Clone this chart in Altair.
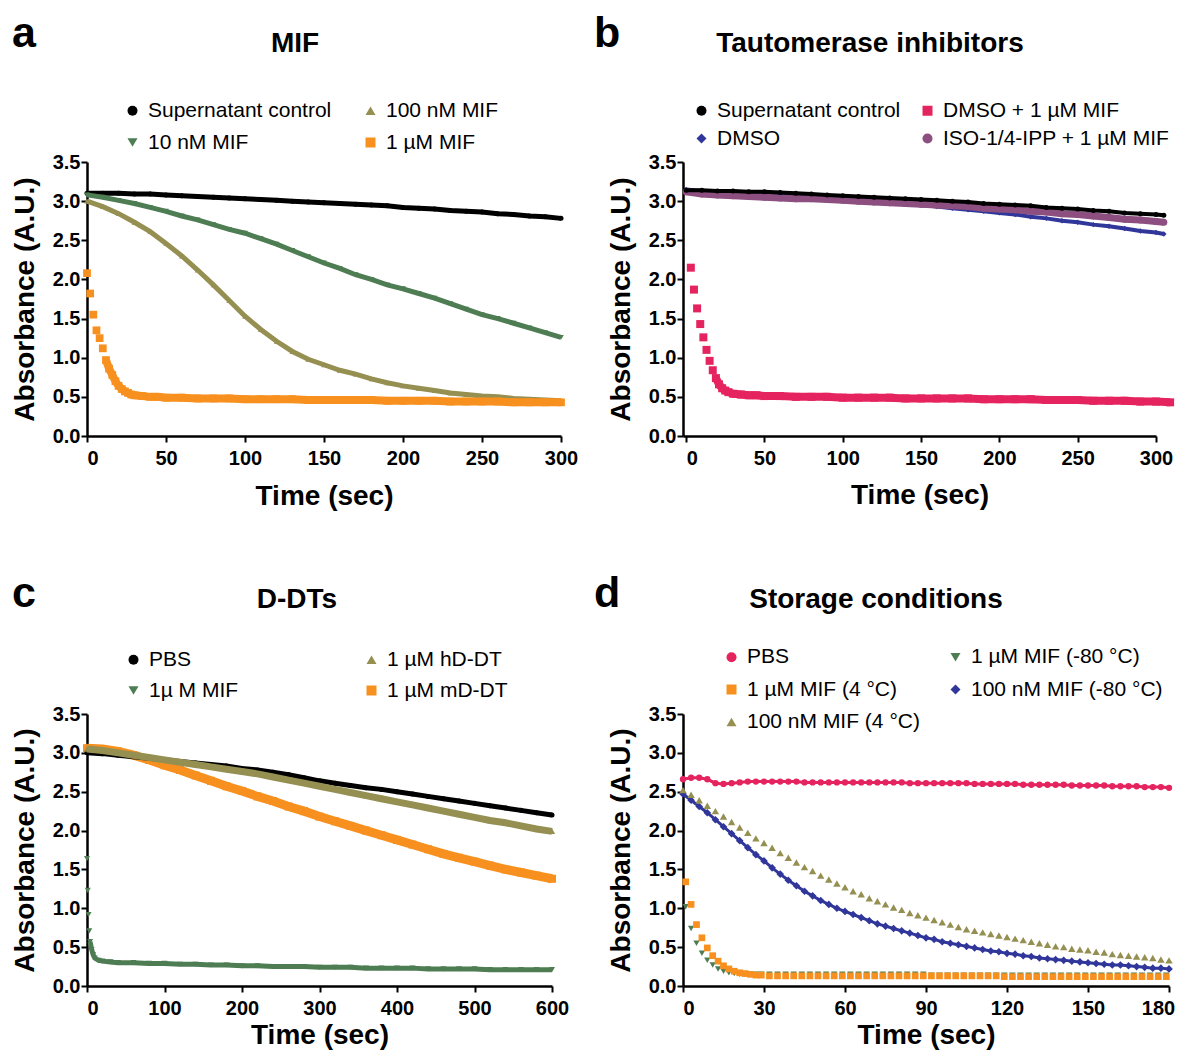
import altair as alt
import pandas as pd

FONT = "Liberation Sans"
BLACK = "#000000"
GREEN = "#4E7D53"
OLIVE = "#958F52"
ORANGE = "#F7901E"
PINK = "#E5245F"
NAVY = "#30369A"
MAUVE = "#8C4F80"

Y_TICKS = [0, 0.5, 1.0, 1.5, 2.0, 2.5, 3.0, 3.5]

# ---------------- Panel a : MIF ----------------
A_LETTER, A_TITLE = "a", "MIF"
A_LEGEND = ["Supernatant control", "10 nM MIF", "100 nM MIF", "1 µM MIF"]
A_XTICKS = [0, 50, 100, 150, 200, 250, 300]
A_T = list(range(0, 301, 10))
A_SUPER = [3.10, 3.10, 3.10, 3.09, 3.09, 3.08, 3.07, 3.06, 3.05, 3.04,
           3.03, 3.02, 3.01, 3.00, 2.99, 2.98, 2.97, 2.96, 2.95, 2.94,
           2.92, 2.91, 2.90, 2.88, 2.87, 2.86, 2.84, 2.83, 2.81, 2.80, 2.78]
A_10NM = [3.08, 3.05, 3.01, 2.97, 2.92, 2.87, 2.81, 2.76, 2.70, 2.64,
          2.59, 2.52, 2.45, 2.37, 2.29, 2.21, 2.14, 2.06, 2.00, 1.93,
          1.88, 1.82, 1.76, 1.69, 1.62, 1.55, 1.50, 1.44, 1.38, 1.32, 1.26]
A_100NM = [3.00, 2.93, 2.84, 2.73, 2.61, 2.46, 2.30, 2.12, 1.93, 1.73,
           1.53, 1.36, 1.21, 1.08, 0.98, 0.91, 0.84, 0.79, 0.73, 0.68,
           0.64, 0.61, 0.58, 0.55, 0.53, 0.51, 0.50, 0.48, 0.47, 0.46, 0.45]
A_1UM_T = [0, 2, 4, 6, 8, 10, 12, 14, 16, 18, 20, 22, 24, 26, 28, 30,
           35, 40, 45, 50,
           60, 70, 80, 90, 100, 110, 120, 130, 140, 150, 160, 170, 180,
           190, 200, 210, 220, 230, 240, 250, 260, 270, 280, 290, 300]
A_1UM = [2.08, 1.82, 1.55, 1.35, 1.25, 1.12, 0.97, 0.86, 0.78, 0.70,
         0.64, 0.60, 0.57, 0.55, 0.53, 0.52,
         0.51, 0.50, 0.50, 0.49,
         0.49, 0.48, 0.48, 0.48, 0.47, 0.47, 0.47, 0.47, 0.46, 0.46,
         0.46, 0.46, 0.46, 0.45, 0.45, 0.45, 0.45, 0.44, 0.44, 0.44,
         0.44, 0.43, 0.43, 0.43, 0.43]

# ---------------- Panel b : Tautomerase inhibitors ----------------
B_LETTER, B_TITLE = "b", "Tautomerase inhibitors"
B_LEGEND = ["Supernatant control", "DMSO", "DMSO + 1 µM MIF", "ISO-1/4-IPP + 1 µM MIF"]
B_XTICKS = [0, 50, 100, 150, 200, 250, 300]
B_T = list(range(0, 301, 10)) + [305]
B_SUPER = [3.14, 3.14, 3.13, 3.13, 3.12, 3.12, 3.11, 3.10, 3.09, 3.08,
           3.07, 3.06, 3.05, 3.04, 3.03, 3.02, 3.01, 3.00, 2.99, 2.97,
           2.96, 2.95, 2.94, 2.92, 2.91, 2.90, 2.88, 2.87, 2.85, 2.84, 2.83, 2.82]
B_DMSO = [3.15, 3.13, 3.12, 3.12, 3.11, 3.10, 3.09, 3.07, 3.06, 3.04,
          3.03, 3.01, 3.00, 2.98, 2.97, 2.95, 2.93, 2.91, 2.89, 2.87,
          2.85, 2.83, 2.80, 2.78, 2.75, 2.73, 2.70, 2.68, 2.65, 2.62, 2.60, 2.58]
B_ISO = [3.12, 3.09, 3.08, 3.07, 3.06, 3.05, 3.04, 3.03, 3.03, 3.02,
         3.01, 3.00, 2.99, 2.98, 2.97, 2.96, 2.95, 2.94, 2.93, 2.91,
         2.90, 2.89, 2.87, 2.86, 2.84, 2.83, 2.81, 2.79, 2.77, 2.76, 2.74, 2.73]
B_MIF_T = [3, 5, 7, 9, 11, 13, 15, 17, 19, 21, 23, 25, 27,
           30, 35, 40, 45, 50,
           60, 70, 80, 90, 100, 110, 120, 130, 140, 150, 160, 170, 180,
           190, 200, 210, 220, 230, 240, 250, 260, 270, 280, 290, 300, 309]
B_MIF = [2.15, 1.87, 1.63, 1.43, 1.26, 1.10, 0.96, 0.84, 0.74, 0.66, 0.61, 0.58, 0.56,
         0.54, 0.53, 0.52, 0.52, 0.51,
         0.51, 0.50, 0.50, 0.50, 0.49, 0.49, 0.49, 0.49, 0.48, 0.48,
         0.48, 0.48, 0.48, 0.47, 0.47, 0.47, 0.47, 0.46, 0.46, 0.46,
         0.45, 0.45, 0.45, 0.44, 0.44, 0.43]

# ---------------- Panel c : D-DTs ----------------
C_LETTER, C_TITLE = "c", "D-DTs"
C_LEGEND = ["PBS", "1µ M MIF", "1 µM hD-DT", "1 µM mD-DT"]
C_XTICKS = [0, 100, 200, 300, 400, 500, 600]
C_T = list(range(0, 601, 20))
C_PBS = [3.00, 2.99, 2.97, 2.95, 2.93, 2.91, 2.89, 2.87, 2.85, 2.83,
         2.80, 2.78, 2.75, 2.72, 2.68, 2.64, 2.61, 2.58, 2.55, 2.53,
         2.50, 2.47, 2.44, 2.41, 2.38, 2.35, 2.32, 2.29, 2.26, 2.23, 2.20]
C_HDDT = [3.05, 3.03, 3.00, 2.97, 2.94, 2.91, 2.88, 2.85, 2.82, 2.79,
          2.76, 2.73, 2.69, 2.65, 2.61, 2.57, 2.53, 2.49, 2.45, 2.41,
          2.37, 2.33, 2.29, 2.25, 2.21, 2.17, 2.13, 2.10, 2.06, 2.02, 1.99]
C_MDDT = [3.06, 3.05, 3.02, 2.97, 2.91, 2.84, 2.78, 2.71, 2.64, 2.57,
          2.51, 2.44, 2.38, 2.31, 2.25, 2.18, 2.12, 2.06, 2.00, 1.94,
          1.88, 1.82, 1.76, 1.70, 1.65, 1.60, 1.55, 1.50, 1.46, 1.42, 1.38]
C_MIF_T = [0, 1, 2, 3, 4, 6, 8, 10, 15, 20, 30, 40,
           60, 80, 100, 120, 140, 160, 180, 200, 220, 240, 260, 280, 300, 320,
           340, 360, 380, 400, 420, 440, 460, 480, 500, 520, 540, 560, 580, 600]
C_MIF = [1.64, 1.23, 0.92, 0.71, 0.57, 0.47, 0.40, 0.36, 0.33, 0.32, 0.31, 0.30,
         0.30, 0.29, 0.29, 0.28, 0.28, 0.27, 0.27, 0.26, 0.26, 0.25, 0.25, 0.25, 0.24, 0.24,
         0.24, 0.23, 0.23, 0.23, 0.23, 0.22, 0.22, 0.22, 0.22, 0.21, 0.21, 0.21, 0.21, 0.21]

# ---------------- Panel d : Storage conditions ----------------
D_LETTER, D_TITLE = "d", "Storage conditions"
D_LEGEND = ["PBS", "1 µM MIF (4 °C)", "100 nM MIF (4 °C)", "1 µM MIF (-80 °C)", "100 nM MIF (-80 °C)"]
D_XTICKS = [0, 30, 60, 90, 120, 150, 180]
D_T = list(range(0, 181, 3))
D_PBS = [2.66, 2.68, 2.68, 2.66, 2.61, 2.60, 2.61, 2.62, 2.63, 2.63,
         2.63, 2.63, 2.63, 2.63, 2.63, 2.62, 2.62, 2.62, 2.62, 2.62,
         2.62, 2.62, 2.62, 2.62, 2.62, 2.62, 2.62, 2.62, 2.61, 2.61,
         2.61, 2.61, 2.61, 2.61, 2.61, 2.61, 2.60, 2.60, 2.60, 2.60,
         2.60, 2.60, 2.59, 2.59, 2.59, 2.59, 2.59, 2.59, 2.58, 2.58,
         2.58, 2.58, 2.58, 2.57, 2.57, 2.57, 2.57, 2.56, 2.56, 2.56, 2.55]
D_100NM_4C = [2.52, 2.46, 2.39, 2.32, 2.25, 2.18, 2.11, 2.04, 1.97, 1.90,
              1.84, 1.78, 1.71, 1.65, 1.59, 1.53, 1.48, 1.42, 1.37, 1.32,
              1.27, 1.22, 1.18, 1.13, 1.09, 1.05, 1.01, 0.98, 0.94, 0.91,
              0.88, 0.85, 0.82, 0.79, 0.76, 0.73, 0.71, 0.69, 0.67, 0.65,
              0.63, 0.61, 0.59, 0.57, 0.55, 0.53, 0.51, 0.50, 0.48, 0.47,
              0.46, 0.44, 0.43, 0.41, 0.40, 0.39, 0.38, 0.37, 0.36, 0.34, 0.33]
D_100NM_80 = [2.47, 2.39, 2.31, 2.23, 2.14, 2.05, 1.96, 1.87, 1.78, 1.69,
              1.61, 1.52, 1.44, 1.36, 1.29, 1.22, 1.16, 1.10, 1.05, 1.00,
              0.96, 0.92, 0.88, 0.84, 0.80, 0.77, 0.74, 0.71, 0.68, 0.65,
              0.62, 0.60, 0.57, 0.55, 0.53, 0.51, 0.49, 0.47, 0.45, 0.44,
              0.42, 0.41, 0.39, 0.38, 0.36, 0.35, 0.34, 0.33, 0.32, 0.31,
              0.30, 0.29, 0.28, 0.27, 0.27, 0.26, 0.25, 0.24, 0.23, 0.23, 0.22]
D_FAST_T = [1, 3, 5, 7, 9, 11, 13, 15, 17, 19, 21, 23, 25, 27, 29,
            32, 35, 38, 41, 44, 47, 50, 53, 56, 59, 62, 65, 68, 71, 74,
            77, 80, 83, 86, 89, 92, 95, 98, 101, 104, 107, 110, 113, 116, 119,
            122, 125, 128, 131, 134, 137, 140, 143, 146, 149, 152, 155, 158, 161, 164,
            167, 170, 173, 176, 179]
D_1UM_4C = [1.34, 1.05, 0.79, 0.62, 0.49, 0.39, 0.32, 0.26, 0.22, 0.19, 0.17, 0.16, 0.15, 0.14, 0.14,
            0.13, 0.13, 0.13, 0.13, 0.13, 0.13, 0.13, 0.13, 0.13, 0.13, 0.13, 0.13, 0.13, 0.13, 0.13,
            0.13, 0.13, 0.13, 0.13, 0.13, 0.13, 0.13, 0.13, 0.13, 0.13, 0.13, 0.13, 0.13, 0.13, 0.12,
            0.12, 0.12, 0.12, 0.12, 0.12, 0.12, 0.12, 0.12, 0.12, 0.12, 0.12, 0.12, 0.12, 0.12, 0.12,
            0.12, 0.12, 0.12, 0.12, 0.12]
D_1UM_80 = [1.02, 0.74, 0.55, 0.42, 0.33, 0.27, 0.22, 0.19, 0.17, 0.16, 0.15, 0.15, 0.15, 0.15, 0.15,
            0.15, 0.15, 0.15, 0.15, 0.15, 0.15, 0.15, 0.15, 0.15, 0.15, 0.15, 0.15, 0.15, 0.15, 0.15,
            0.15, 0.15, 0.15, 0.15, 0.15, 0.14, 0.14, 0.14, 0.14, 0.14, 0.14, 0.14, 0.14, 0.14, 0.14,
            0.14, 0.14, 0.14, 0.14, 0.14, 0.14, 0.14, 0.14, 0.14, 0.14, 0.14, 0.14, 0.14, 0.14, 0.14,
            0.14, 0.14, 0.14, 0.14, 0.14]


def frame(entries):
    rows = []
    for name, ts, vs in entries:
        assert len(ts) == len(vs), (name, len(ts), len(vs))
        for t, v in zip(ts, vs):
            rows.append({"series": name, "t": t, "v": v})
    return pd.DataFrame(rows)


def panel(df, legend_order, draw_order, style, xdomain, xticks, width, height, xtitle_y,
          letter, letter_pos, title, title_pos, legend_pos, col_pad, row_pad, last_label_dx=0):
    x_axis = dict(values=xticks, format="d", title="Time (sec)", titleY=xtitle_y,
                  titleBaseline="alphabetic",
                  labelAlign={"condition": {"test": "datum.value === 0", "value": "left"},
                              "value": "center"})
    if last_label_dx:
        x_axis["labelOffset"] = {"condition": {"test": "datum.value === %d" % xticks[-1],
                                               "value": last_label_dx}, "value": 0}
    x = alt.X("t:Q", scale=alt.Scale(domain=xdomain, nice=False, zero=False),
              axis=alt.Axis(**x_axis))
    y = alt.Y("v:Q", scale=alt.Scale(domain=[0, 3.5], nice=False, zero=False),
              axis=alt.Axis(values=Y_TICKS, format=".1f", title="Absorbance (A.U.)",
                            titleX=-54, titleY=height / 2, titleBaseline="alphabetic",
                            titleAlign="center", titleAngle=-90))
    leg = alt.Legend(title=None, orient="none", legendX=legend_pos[0], legendY=legend_pos[1],
                     columns=2, columnPadding=col_pad, rowPadding=row_pad, padding=0,
                     labelFont=FONT, labelFontSize=21, labelColor="black", labelOffset=5,
                     labelLimit=400, symbolSize=100, symbolStrokeWidth=0, symbolOpacity=1)
    color = alt.Color("series:N", legend=leg,
                      scale=alt.Scale(domain=legend_order,
                                      range=[style[n]["color"] for n in legend_order]))
    shape = alt.Shape("series:N", legend=leg,
                      scale=alt.Scale(domain=legend_order,
                                      range=[style[n]["shape"] for n in legend_order]))
    base = alt.Chart(df)
    layers = []
    for name in draw_order:
        s = style[name]
        if s.get("line"):
            layers.append(
                base.transform_filter((alt.datum.series == name) & (alt.datum.t >= s.get("from", 0)))
                .mark_line(color=s["color"], strokeWidth=s["line"])
                .encode(x=x, y=y, order="t:Q"))
        layers.append(
            base.transform_filter(alt.datum.series == name)
            .mark_point(filled=True, opacity=1, size=s["size"], strokeWidth=0)
            .encode(x=x, y=y, color=color, shape=shape))
    txt = alt.Chart(pd.DataFrame({"letter": [letter], "title": [title]}))
    layers.append(txt.mark_text(font=FONT, fontSize=43, fontWeight="bold", align="left",
                                baseline="alphabetic", color="black")
                  .encode(x=alt.value(letter_pos[0]), y=alt.value(letter_pos[1]), text="letter:N"))
    layers.append(txt.mark_text(font=FONT, fontSize=28, fontWeight="bold", align="center",
                                baseline="alphabetic", color="black")
                  .encode(x=alt.value(title_pos[0]), y=alt.value(title_pos[1]), text="title:N"))
    return alt.layer(*layers).properties(width=width, height=height)


# --- panel a
df_a = frame([("Supernatant control", A_T, A_SUPER), ("10 nM MIF", A_T, A_10NM),
              ("100 nM MIF", A_T, A_100NM), ("1 µM MIF", A_1UM_T, A_1UM)])
style_a = {
    "Supernatant control": dict(color=BLACK, shape="circle", size=25, line=5),
    "10 nM MIF": dict(color=GREEN, shape="triangle-down", size=32, line=5),
    "100 nM MIF": dict(color=OLIVE, shape="triangle-up", size=32, line=5),
    "1 µM MIF": dict(color=ORANGE, shape="square", size=60, line=8, **{"from": 12}),
}
pa = panel(df_a, A_LEGEND, ["Supernatant control", "10 nM MIF", "100 nM MIF", "1 µM MIF"],
           style_a, [0, 300], A_XTICKS, 474, 274, 68, A_LETTER, (-75, -115), A_TITLE, (208, -110),
           (35, -62), 28, 10)

# --- panel b
df_b = frame([("DMSO", B_T, B_DMSO), ("ISO-1/4-IPP + 1 µM MIF", B_T, B_ISO),
              ("Supernatant control", B_T, B_SUPER), ("DMSO + 1 µM MIF", B_MIF_T, B_MIF)])
style_b = {
    "Supernatant control": dict(color=BLACK, shape="circle", size=25, line=4),
    "DMSO": dict(color=NAVY, shape="diamond", size=30, line=4),
    "ISO-1/4-IPP + 1 µM MIF": dict(color=MAUVE, shape="circle", size=49, line=7),
    "DMSO + 1 µM MIF": dict(color=PINK, shape="square", size=64, line=8, **{"from": 19}),
}
pb = panel(df_b, B_LEGEND, ["DMSO", "ISO-1/4-IPP + 1 µM MIF", "Supernatant control", "DMSO + 1 µM MIF"],
           style_b, [-2, 300], B_XTICKS, 473, 274, 67, B_LETTER, (-89, -115), B_TITLE, (187, -110),
           (8, -62), 16, 6)

# --- panel c
df_c = frame([("1 µM mD-DT", C_T, C_MDDT), ("PBS", C_T, C_PBS),
              ("1 µM hD-DT", C_T, C_HDDT), ("1µ M MIF", C_MIF_T, C_MIF)])
style_c = {
    "PBS": dict(color=BLACK, shape="circle", size=25, line=5),
    "1µ M MIF": dict(color=GREEN, shape="triangle-down", size=36, line=5, **{"from": 4}),
    "1 µM hD-DT": dict(color=OLIVE, shape="triangle-up", size=40, line=7),
    "1 µM mD-DT": dict(color=ORANGE, shape="square", size=64, line=9),
}
pc = panel(df_c, C_LEGEND, ["1 µM mD-DT", "PBS", "1 µM hD-DT", "1µ M MIF"],
           style_c, [0, 600], C_XTICKS, 465, 272, 57, C_LETTER, (-75, -107), C_TITLE, (210, -106),
           (36, -65), 122, 9)

# --- panel d
df_d = frame([("PBS", D_T, D_PBS), ("100 nM MIF (-80 °C)", D_T, D_100NM_80),
              ("100 nM MIF (4 °C)", D_T, D_100NM_4C), ("1 µM MIF (-80 °C)", D_FAST_T, D_1UM_80),
              ("1 µM MIF (4 °C)", D_FAST_T, D_1UM_4C)])
style_d = {
    "PBS": dict(color=PINK, shape="circle", size=40, line=3),
    "1 µM MIF (-80 °C)": dict(color=GREEN, shape="triangle-down", size=40),
    "1 µM MIF (4 °C)": dict(color=ORANGE, shape="square", size=45),
    "100 nM MIF (-80 °C)": dict(color=NAVY, shape="diamond", size=58, line=3),
    "100 nM MIF (4 °C)": dict(color=OLIVE, shape="triangle-up", size=55),
}
pd_ = panel(df_d, D_LEGEND, ["PBS", "100 nM MIF (-80 °C)", "100 nM MIF (4 °C)",
                             "1 µM MIF (-80 °C)", "1 µM MIF (4 °C)"],
            style_d, [0, 180], D_XTICKS, 486, 272, 57, D_LETTER, (-89, -107), D_TITLE, (193, -106),
            (38, -67.5), 25, 10.5, last_label_dx=-11)

chart = (
    alt.concat(pa, pb, pc, pd_, columns=2, spacing={"row": 278, "column": 122},
               bounds="flush", align="each")
    .resolve_scale(color="independent", shape="independent")
    .properties(autosize=alt.AutoSizeParams(type="none"),
                padding={"left": 79, "top": 154, "right": 1089, "bottom": 888})
    .configure_view(stroke=None)
    .configure_axis(domainColor="black", domainWidth=2.5, tickColor="black", tickWidth=2,
                    tickSize=6, labelFont=FONT, labelFontSize=20, labelFontWeight="bold",
                    labelColor="black", titleFont=FONT, titleFontSize=28,
                    titleFontWeight="bold", titleColor="black", grid=False,
                    labelOverlap=False)
    .configure_axisX(labelPadding=6, labelFlush=False)
    .configure_axisY(labelPadding=1)
)

chart.save("out.html", embed_options={"renderer": "svg", "actions": False})
